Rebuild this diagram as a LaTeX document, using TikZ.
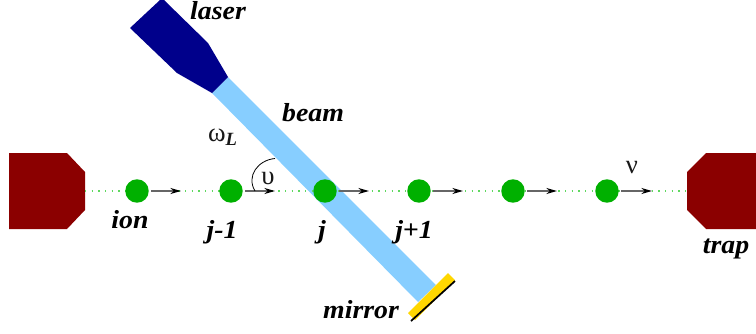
\documentclass[tikz,border=0pt]{standalone}
\usepackage{fontspec}
\setmainfont{Liberation Serif}
\newfontfamily\widefont[FakeStretch=1.07]{Liberation Serif}
\usetikzlibrary{arrows.meta}
\definecolor{trapred}{HTML}{8B0000}
\definecolor{laserblue}{HTML}{00008B}
\definecolor{beamblue}{HTML}{87CEFF}
\definecolor{iongreen}{HTML}{00B000}
\definecolor{dotgreen}{HTML}{60D860}
\definecolor{mirroryellow}{HTML}{FFD700}
\tikzset{
  x=0.75pt,y=-0.75pt,
  trapshape/.style={fill=trapred,draw=none},
  ion/.style={circle,fill=iongreen,draw=none,minimum size=17.6pt,inner sep=0pt},
  velo/.style={draw=black!60,line width=1.1pt,-{Stealth[length=8pt,width=4.5pt,black]},shorten <=10.5pt},
  lab/.style={font=\widefont\fontsize{19.5}{19.5}\selectfont\bfseries\itshape,inner sep=0pt,text=black,anchor=base},
  greek/.style={font=\fontsize{20}{20}\selectfont,inner sep=0pt,text=black!90,anchor=base},
}
\begin{document}
\begin{tikzpicture}
\useasboundingbox (0,0) rectangle (756,333);
% beam
\fill[beamblue] (212,93) -- (228,77) -- (436,285) -- (418,302) -- cycle;
% laser
\fill[laserblue] (160,0) -- (130,28) -- (177,73) -- (212,93) -- (228,77) -- (208,43) -- (164,0) -- cycle;
% mirror
\fill[mirroryellow] (448,273) -- (455,280) -- (415,320) -- (408,313) -- cycle;
\coordinate (mirrorA) at (455,281);
\coordinate (mirrorB) at (411,321);
\draw[black,line width=1.3pt] (mirrorA) -- (mirrorB);
% traps
\path[trapshape,fill] (9,153) -- (67,153) -- (85,172) -- (85,210) -- (67,229) -- (9,229) -- cycle;
\path[trapshape,fill] (756,153) -- (706,153) -- (687,172) -- (687,210) -- (706,229) -- (756,229) -- cycle;
\coordinate (trapL) at (85,191);
\coordinate (trapR) at (687,191);
% axis
\draw[dotgreen,line width=1pt,dash pattern=on 1pt off 4pt] (trapL) -- (trapR);
% ions
\node[ion] (i1) at (137,191) {};
\node[ion] (i2) at (231,191) {};
\node[ion] (i3) at (325,191) {};
\node[ion] (i4) at (419,191) {};
\node[ion] (i5) at (513,191) {};
\node[ion] (i6) at (607,191) {};
\coordinate (a1) at (181,191);
\coordinate (a2) at (275,191);
\coordinate (a3) at (369,191);
\coordinate (a4) at (463,191);
\coordinate (a5) at (557,191);
\coordinate (a6) at (652,191);
\foreach \n in {1,...,6} \draw[velo] (i\n.center) -- (a\n);
% angle
\coordinate (arcA) at (275,158.5);
\coordinate (arcB) at (255,191);
\draw[black,line width=0.6pt] (arcA) .. controls (258,160) and (246,176) .. (arcB);
% labels
\node[lab] (laser) at (218,19) {laser};
\node[lab] (beam) at (313,121) {beam};
\node[lab] (ion) at (130,228) {ion};
\node[lab] (jm) at (222,238) {j-1};
\node[lab] (j) at (322,238) {j};
\node[lab] (jp) at (414,238) {j+1};
\node[lab] (mirror) at (361,318) {mirror};
\node[lab] (trap) at (726,253) {trap};
\node[greek] (omega) at (223,141) {ω\textsubscript{\textbf{\textit{L}}}};
\node[greek] (upsilon) at (268,184) {υ};
\node[greek] (nu) at (632,173) {ν};
\end{tikzpicture}
\end{document}
